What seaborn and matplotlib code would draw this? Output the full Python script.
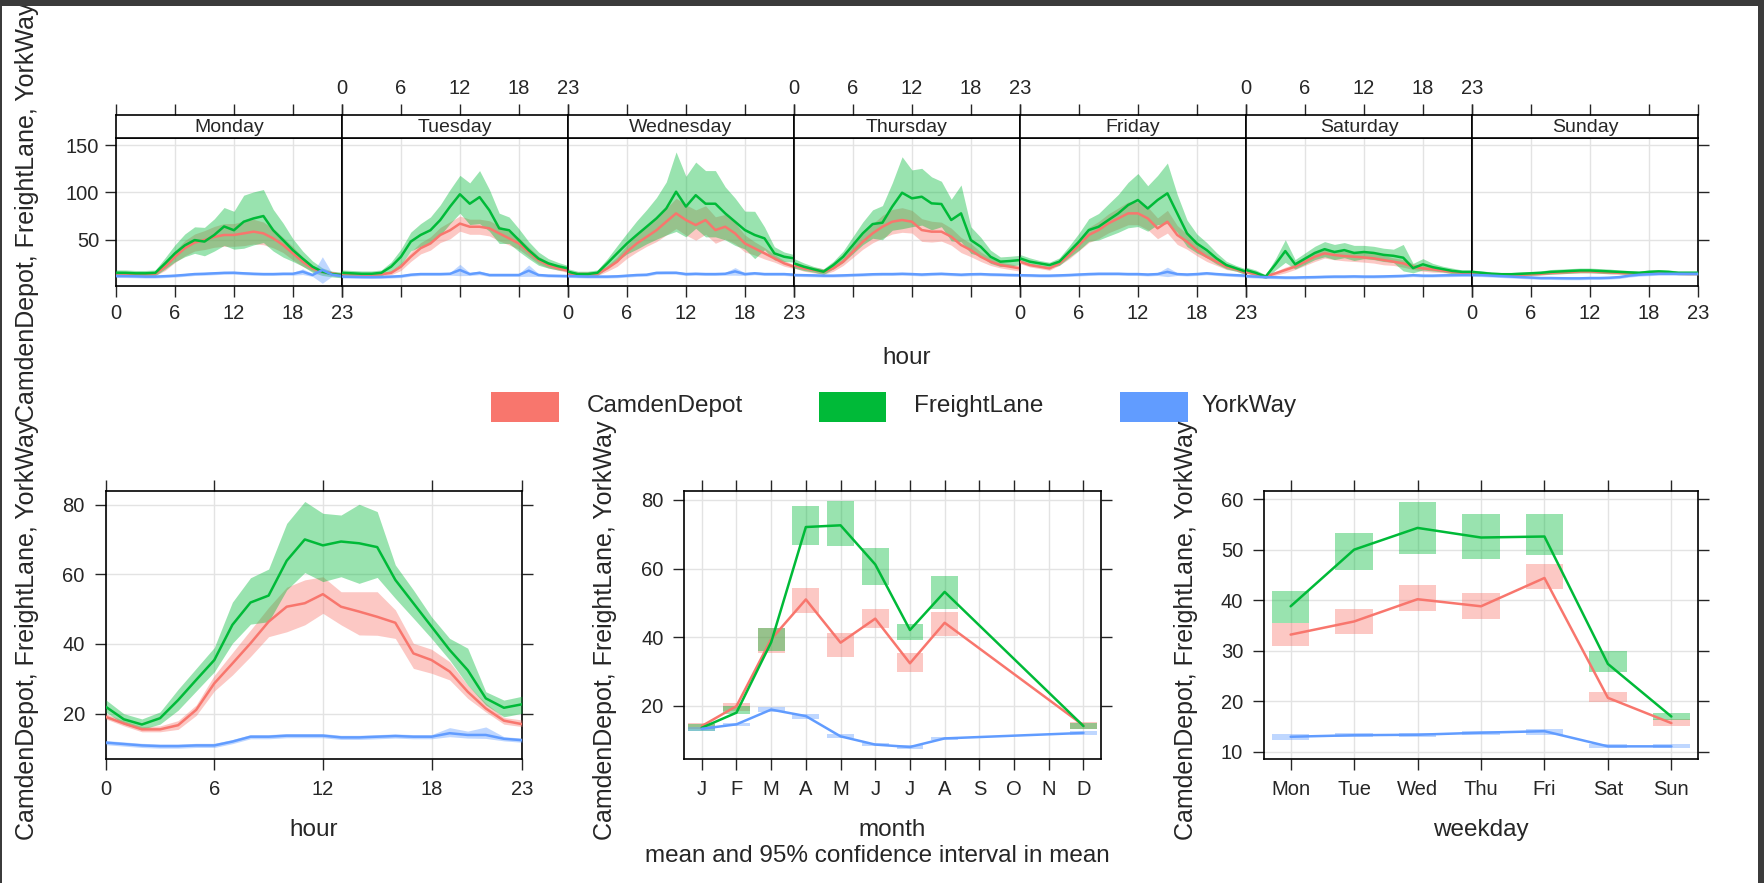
import numpy as np
import pandas as pd
import matplotlib
matplotlib.use("Agg")
import matplotlib.pyplot as plt
import seaborn as sns
from matplotlib.patches import Rectangle

sns.set_style("white")
plt.rcParams['font.family'] = ['Liberation Sans', 'DejaVu Sans']

# ---------------- data ----------------
sites = ["CamdenDepot", "FreightLane", "YorkWay"]
site_colors = ["#F8766D", "#00BA38", "#619CFF"]
days = ["Monday", "Tuesday", "Wednesday", "Thursday", "Friday", "Saturday", "Sunday"]
hours = list(range(24))

# day x hour means
camden_dayhour = [
    [14.4, 14.0, 13.5, 13.5, 14.0, 21.5, 32.0, 41.0, 47.0, 49.6, 53.0, 55.0, 55.0, 56.7, 58.5, 56.7, 51.4, 44.4, 35.6, 26.8, 19.7, 16.2, 14.4, 12.7],
    [14.0, 13.5, 13.0, 13.0, 13.5, 15.0, 21.5, 32.0, 41.0, 46.0, 55.0, 60.0, 67.0, 63.7, 63.7, 62.0, 56.7, 51.4, 46.0, 37.3, 28.5, 23.2, 19.7, 17.3],
    [14.4, 13.7, 13.7, 14.0, 19.7, 26.8, 37.3, 46.0, 53.0, 60.0, 69.0, 77.8, 70.8, 65.5, 70.8, 60.2, 63.7, 56.7, 46.0, 40.8, 35.6, 30.3, 25.0, 21.5],
    [23.2, 19.7, 18.0, 16.2, 19.7, 26.8, 37.3, 47.9, 56.7, 63.7, 69.0, 70.8, 69.0, 60.2, 58.5, 58.5, 53.2, 44.4, 39.0, 32.0, 26.8, 23.2, 21.5, 19.7],
    [26.8, 23.2, 21.5, 19.7, 25.0, 33.8, 44.4, 55.0, 60.2, 67.3, 72.5, 77.8, 77.8, 72.5, 62.0, 69.0, 55.0, 47.9, 39.0, 32.0, 26.8, 21.5, 18.7, 15.1],
    [16.0, 13.7, 11.0, 14.5, 18.0, 21.5, 26.8, 32.0, 35.6, 33.8, 32.7, 32.0, 31.3, 30.3, 28.5, 26.8, 25.0, 21.5, 19.7, 18.7, 17.3, 16.2, 15.0, 14.4],
    [15.0, 14.0, 13.5, 13.0, 13.0, 13.0, 13.5, 14.0, 15.0, 15.5, 16.0, 16.5, 16.5, 16.0, 15.5, 15.0, 14.5, 14.5, 15.0, 15.5, 15.0, 14.5, 14.0, 14.0],
]
freight_dayhour = [
    [15.1, 15.0, 14.5, 14.5, 15.0, 25.0, 35.6, 44.0, 49.6, 48.0, 55.0, 64.0, 60.0, 69.0, 72.5, 75.0, 60.0, 49.6, 39.0, 30.0, 21.5, 16.2, 13.7, 12.7],
    [15.0, 14.5, 14.0, 14.0, 15.0, 21.5, 32.0, 48.0, 55.0, 60.0, 70.8, 85.0, 98.0, 88.0, 95.0, 81.0, 62.0, 60.0, 49.6, 39.0, 30.0, 25.0, 22.0, 19.7],
    [16.2, 13.7, 13.7, 15.1, 25.0, 35.6, 46.0, 55.0, 63.7, 72.5, 83.0, 100.7, 85.0, 97.0, 88.0, 88.0, 77.8, 69.0, 60.2, 55.0, 51.4, 35.6, 32.0, 30.3],
    [25.0, 21.5, 18.7, 16.2, 23.2, 32.0, 44.4, 56.7, 66.5, 68.0, 85.0, 99.6, 93.7, 95.4, 88.4, 87.7, 70.8, 77.8, 49.6, 42.6, 32.0, 26.8, 27.5, 28.5],
    [30.3, 26.8, 25.0, 23.2, 26.8, 37.3, 47.9, 60.2, 63.7, 70.8, 77.8, 86.6, 91.9, 83.0, 91.9, 99.0, 77.8, 56.7, 46.0, 39.0, 30.3, 23.2, 19.7, 16.2],
    [18.0, 15.0, 11.0, 24.0, 38.0, 24.0, 30.0, 36.0, 40.0, 37.0, 39.0, 36.0, 37.0, 36.0, 34.0, 33.0, 31.0, 20.0, 24.0, 21.0, 19.0, 17.0, 16.0, 16.0],
    [16.0, 15.0, 14.0, 13.5, 13.5, 14.0, 14.5, 15.0, 16.0, 16.5, 17.0, 17.5, 17.5, 17.0, 16.5, 16.0, 15.5, 15.0, 16.0, 16.5, 16.0, 15.0, 15.0, 15.0],
]
york_dayhour = [
    [11.6, 11.5, 11.3, 11.0, 11.0, 11.5, 12.0, 12.8, 13.7, 14.0, 14.5, 15.0, 15.1, 14.5, 14.0, 13.7, 13.7, 14.0, 14.0, 16.2, 12.7, 18.0, 13.0, 11.6],
    [11.0, 10.8, 10.6, 10.5, 10.6, 11.0, 11.5, 13.0, 13.7, 13.7, 13.7, 14.0, 18.0, 13.7, 15.0, 12.7, 12.7, 12.7, 12.7, 17.3, 12.7, 12.0, 11.8, 11.6],
    [11.6, 11.3, 11.0, 11.0, 11.0, 11.3, 12.0, 12.7, 13.0, 15.0, 15.1, 15.1, 13.7, 14.0, 13.7, 13.7, 14.0, 16.5, 13.7, 14.5, 13.7, 13.7, 13.7, 13.0],
    [12.7, 12.5, 12.3, 12.0, 12.0, 12.3, 12.7, 13.0, 13.5, 13.7, 13.7, 14.0, 13.7, 13.2, 13.7, 14.0, 13.5, 13.0, 13.5, 13.7, 13.2, 13.0, 12.7, 12.5],
    [12.5, 12.3, 12.0, 12.0, 12.3, 12.7, 13.2, 13.7, 14.0, 14.0, 14.0, 13.7, 13.7, 13.2, 13.7, 16.0, 13.7, 13.2, 13.7, 14.5, 13.7, 13.0, 12.5, 12.0],
    [11.5, 11.0, 10.5, 10.3, 10.0, 10.0, 10.3, 10.5, 10.8, 11.0, 11.0, 11.2, 11.0, 11.0, 11.2, 11.5, 11.8, 12.5, 12.0, 12.0, 12.3, 12.5, 12.7, 12.7],
    [12.7, 12.5, 12.0, 11.5, 11.0, 10.5, 10.0, 9.5, 9.5, 9.3, 9.2, 9.2, 9.5, 9.5, 9.8, 10.5, 12.0, 13.0, 13.5, 14.0, 14.0, 14.0, 14.0, 14.0],
]
# day x hour 95% CI half-widths
camden_dayhour_ci = [
    [2, 2, 2, 2, 2, 4, 6, 8, 9, 10, 11, 12, 12, 13, 13, 12, 10, 8, 7, 5, 3, 2, 2, 2],
    [2, 2, 2, 2, 2, 2, 4, 5, 6, 7, 8, 9, 8, 8, 8, 8, 8, 7, 6, 5, 4, 3, 2, 2],
    [2, 2, 2, 2, 3, 5, 7, 9, 10, 12, 14, 16, 16, 16, 15, 14, 13, 11, 9, 7, 6, 4, 3, 2],
    [3, 3, 3, 3, 3, 4, 6, 8, 10, 12, 13, 13, 12, 12, 11, 10, 9, 8, 7, 5, 4, 3, 3, 3],
    [2, 2, 2, 2, 2, 4, 6, 8, 9, 10, 11, 12, 12, 12, 11, 12, 10, 8, 6, 5, 4, 3, 2, 2],
    [2, 2, 2, 2, 3, 3, 4, 5, 5, 5, 5, 5, 5, 5, 5, 4, 4, 3, 3, 3, 2, 2, 2, 2],
    [1.5, 1.5, 1.5, 1.5, 1.5, 1.5, 1.5, 1.5, 1.5, 1.5, 1.5, 1.5, 1.5, 1.5, 1.5, 1.5, 1.5, 1.5, 1.5, 1.5, 1.5, 1.5, 1.5, 1.5],
]
freight_dayhour_ci = [
    [3, 3, 3, 3, 3, 6, 9, 12, 14, 15, 17, 20, 20, 28, 28, 28, 22, 18, 12, 8, 6, 4, 3, 3],
    [3, 3, 3, 3, 3, 5, 8, 10, 12, 14, 16, 18, 20, 22, 28, 22, 16, 14, 12, 9, 7, 5, 4, 3],
    [3, 3, 3, 3, 5, 8, 11, 15, 18, 22, 28, 42, 32, 35, 35, 35, 28, 25, 20, 25, 12, 7, 5, 4],
    [5, 4, 3, 3, 4, 6, 9, 12, 15, 18, 25, 38, 30, 30, 28, 24, 22, 30, 14, 10, 7, 5, 5, 5],
    [4, 4, 3, 3, 4, 6, 9, 12, 14, 17, 20, 24, 28, 24, 26, 32, 20, 14, 10, 8, 6, 4, 3, 3],
    [3, 3, 2, 6, 12, 5, 6, 7, 8, 8, 8, 8, 7, 7, 7, 7, 14, 5, 6, 4, 3, 3, 2, 2],
    [2, 2, 2, 2, 2, 2, 2, 2, 2.5, 2.5, 2.5, 2.5, 2.5, 2.5, 2.5, 2, 2, 2, 2, 2, 2, 2, 2, 2],
]
york_dayhour_ci = [
    [1.5, 1.5, 1.5, 1.5, 1.5, 1.5, 1.5, 1.5, 1.5, 1.5, 1.5, 1.5, 1.5, 1.5, 1.5, 1.5, 1.5, 1.5, 1.5, 3, 1.5, 14, 1.5, 1.5],
    [1.5, 1.5, 1.5, 1.5, 1.5, 1.5, 1.5, 1.5, 1.5, 1.5, 1.5, 1.5, 6, 1.5, 2, 1.5, 1.5, 1.5, 1.5, 6, 1.5, 1.5, 1.5, 1.5],
    [1.5, 1.5, 1.5, 1.5, 1.5, 1.5, 1.5, 1.5, 1.5, 1.5, 1.5, 1.5, 1.5, 1.5, 1.5, 1.5, 1.5, 4, 1.5, 1.5, 1.5, 1.5, 1.5, 1.5],
    [1.5, 1.5, 1.5, 1.5, 1.5, 1.5, 1.5, 1.5, 1.5, 1.5, 1.5, 1.5, 1.5, 1.5, 1.5, 1.5, 1.5, 1.5, 1.5, 1.5, 1.5, 1.5, 1.5, 1.5],
    [1.5, 1.5, 1.5, 1.5, 1.5, 1.5, 1.5, 1.5, 1.5, 1.5, 1.5, 1.5, 1.5, 1.5, 1.5, 5, 1.5, 1.5, 1.5, 1.5, 1.5, 1.5, 1.5, 1.5],
    [1.5, 1.5, 1.5, 1.5, 1.5, 1.5, 1.5, 1.5, 1.5, 1.5, 1.5, 1.5, 1.5, 1.5, 1.5, 1.5, 1.5, 1.5, 1.5, 1.5, 1.5, 1.5, 1.5, 1.5],
    [1.5, 1.5, 1.5, 1.5, 1.5, 1.5, 1.5, 1.5, 1.5, 1.5, 1.5, 1.5, 1.5, 1.5, 1.5, 1.5, 1.5, 1.5, 1.5, 1.5, 1.5, 1.5, 1.5, 1.5],
]

# hour panel
camden_hour = [19.1, 17.2, 15.5, 15.5, 16.7, 21.1, 28.7, 34.4, 40.2, 46.4, 50.7, 51.7, 54.3, 50.7, 49.3, 47.8, 46.1, 37.3, 35.4, 32.1, 26.3, 21.5, 18.0, 17.0]
camden_hour_lo = [18.5, 16.5, 14.8, 14.8, 15.5, 19.5, 26.5, 31.1, 36.4, 42.1, 43.5, 45.5, 48.8, 45.5, 42.6, 42.5, 41.6, 33.0, 31.6, 29.7, 24.4, 20.5, 17.0, 16.3]
camden_hour_hi = [20.0, 18.0, 16.3, 16.5, 18.0, 22.5, 31.0, 37.5, 44.0, 50.5, 56.3, 58.4, 59.3, 55.0, 55.0, 55.0, 49.8, 40.2, 38.5, 34.9, 28.2, 23.0, 18.9, 18.2]
freight_hour = [22.0, 18.4, 16.9, 18.7, 23.9, 29.7, 35.4, 45.5, 51.9, 53.9, 63.9, 70.0, 68.3, 69.4, 68.9, 67.8, 58.4, 51.7, 45.0, 38.3, 32.5, 24.4, 21.7, 22.7]
freight_hour_lo = [20.5, 17.0, 15.5, 17.0, 21.0, 26.5, 32.0, 40.2, 45.7, 46.4, 55.5, 60.5, 57.9, 59.3, 57.4, 59.1, 53.1, 47.4, 41.6, 35.4, 28.2, 22.5, 19.1, 20.1]
freight_hour_hi = [24.0, 20.0, 18.5, 20.5, 27.0, 33.0, 39.0, 52.0, 59.0, 61.5, 74.6, 80.9, 77.5, 77.0, 80.1, 78.0, 62.7, 55.5, 47.8, 41.6, 38.8, 26.3, 23.9, 25.0]
york_hour = [11.7, 11.3, 10.9, 10.7, 10.7, 10.9, 10.9, 12.0, 13.4, 13.4, 13.7, 13.7, 13.7, 13.2, 13.2, 13.4, 13.6, 13.4, 13.4, 14.4, 13.9, 13.9, 12.8, 12.4]
york_hour_lo = [11.1, 10.7, 10.3, 10.1, 10.1, 10.3, 10.3, 11.4, 12.8, 12.8, 13.1, 13.1, 13.1, 12.6, 12.6, 12.8, 13.0, 12.8, 12.8, 13.4, 13.0, 12.9, 12.2, 11.8]
york_hour_hi = [12.3, 11.9, 11.5, 11.3, 11.3, 11.5, 11.5, 12.6, 14.0, 14.0, 14.3, 14.3, 14.3, 13.8, 13.8, 14.0, 14.2, 14.0, 14.0, 16.0, 15.0, 16.2, 13.4, 13.0]

# month panel (months with data)
month_labels = ["J", "F", "M", "A", "M", "J", "J", "A", "S", "O", "N", "D"]
month_num = [1, 2, 3, 4, 5, 6, 7, 8, 12]
camden_month = [14.1, 19.9, 39.4, 51.0, 38.4, 45.4, 32.4, 44.2, 14.3]
camden_month_lo = [13.1, 18.4, 35.5, 47.1, 34.3, 42.8, 29.9, 40.3, 13.3]
camden_month_hi = [15.0, 20.9, 42.8, 54.2, 41.3, 48.3, 35.5, 47.3, 15.2]
freight_month = [13.6, 18.0, 38.5, 72.1, 72.6, 61.2, 42.1, 53.2, 14.1]
freight_month_lo = [12.6, 17.5, 36.0, 66.8, 66.6, 55.2, 39.2, 48.1, 13.1]
freight_month_hi = [14.6, 19.9, 42.8, 78.3, 79.7, 66.1, 43.7, 57.8, 15.0]
york_month = [13.3, 14.6, 18.9, 17.0, 11.1, 8.7, 8.0, 10.5, 12.1]
york_month_lo = [12.8, 14.1, 18.2, 16.3, 10.5, 8.2, 7.5, 10.0, 11.6]
york_month_hi = [13.8, 15.1, 19.6, 17.7, 11.7, 9.2, 8.5, 11.0, 12.6]

# weekday panel
weekday_labels = ["Mon", "Tue", "Wed", "Thu", "Fri", "Sat", "Sun"]
camden_wd = [33.2, 35.8, 40.2, 38.8, 44.4, 20.7, 15.7]
camden_wd_lo = [30.9, 33.4, 37.8, 36.2, 42.2, 19.8, 15.1]
camden_wd_hi = [35.4, 38.3, 43.1, 41.4, 47.2, 21.8, 16.5]
freight_wd = [38.8, 50.0, 54.3, 52.4, 52.6, 27.4, 17.0]
freight_wd_lo = [35.5, 46.0, 49.1, 48.2, 49.0, 25.9, 16.3]
freight_wd_hi = [41.8, 53.3, 59.5, 57.0, 57.0, 30.0, 17.6]
york_wd = [13.0, 13.3, 13.4, 13.8, 14.1, 11.1, 11.1]
york_wd_lo = [12.3, 12.9, 13.0, 13.4, 13.3, 10.7, 10.7]
york_wd_hi = [13.6, 13.7, 13.8, 14.2, 14.6, 11.5, 11.5]

ylabel_text = "CamdenDepot, FreightLane, YorkWay"

# ---------------- figure ----------------
W, H = 1764, 883
fig = plt.figure(figsize=(W / 100, H / 100), dpi=100)
fig.patch.set_facecolor("white")
palette = dict(zip(sites, site_colors))
GRID = "#e3e3e3"
TICK_FS = 14.5
STRIP_FS = 14
LAB_FS = 17.5
YLAB_FS = 18


def ax_px(x0, y0, x1, y1):
    return fig.add_axes([x0 / W, 1 - y1 / H, (x1 - x0) / W, (y1 - y0) / H])


def style_frame(ax):
    for s in ax.spines.values():
        s.set_visible(True)
        s.set_color("black")
        s.set_linewidth(1.2)
    ax.set_facecolor("white")


def draw_lines(ax, x, means):
    frames = []
    for site, m in zip(sites, means):
        frames.append(pd.DataFrame({"x": x, "value": m, "site": site}))
    df = pd.concat(frames, ignore_index=True)
    sns.lineplot(data=df, x="x", y="value", hue="site", palette=palette,
                 legend=False, ax=ax, lw=1.8, zorder=5)
    ax.set_xlabel("")
    ax.set_ylabel("")


# ---- top panel: day x hour ----
tl, tr = 116, 1698
dw = (tr - tl) / 7
for i, day in enumerate(days):
    x0 = tl + i * dw
    ax = ax_px(x0, 138.3, x0 + dw, 286)
    style_frame(ax)
    means = [camden_dayhour[i], freight_dayhour[i], york_dayhour[i]]
    cis = [camden_dayhour_ci[i], freight_dayhour_ci[i], york_dayhour_ci[i]]
    for m, c, col in zip(means, cis, site_colors):
        m = np.array(m); c = np.array(c)
        ax.fill_between(hours, m - c, m + c, color=col, alpha=0.4, lw=0, zorder=3)
    draw_lines(ax, hours, means)
    ax.set_xlim(0, 23)
    ax.set_ylim(1.1, 157.1)
    ax.set_xticks([0, 6, 12, 18, 23])
    ax.set_yticks([50, 100, 150])
    ax.grid(True, color=GRID, lw=1)
    ax.set_axisbelow(True)
    ax.tick_params(axis="x", direction="out", length=8, width=1, pad=5,
                   bottom=True, top=False, labelbottom=(i % 2 == 0),
                   labelsize=TICK_FS)
    ax.tick_params(axis="y", direction="out", length=8, width=1, pad=4,
                   left=(i == 0), right=(i == 6), labelleft=(i == 0),
                   labelright=False, labelsize=TICK_FS)
    # strip
    st = ax_px(x0, 115, x0 + dw, 138.3)
    style_frame(st)
    st.set_xlim(0, 23)
    st.set_ylim(0, 1)
    st.set_xticks([0, 6, 12, 18, 23])
    st.set_yticks([])
    st.tick_params(axis="x", direction="out", length=8, width=1, pad=4,
                   bottom=False, top=True, labelbottom=False,
                   labeltop=(i % 2 == 1), labelsize=TICK_FS)
    st.text(0.5, 0.45, day, transform=st.transAxes, ha="center", va="center",
            fontsize=STRIP_FS)

fig.text(907 / W, 1 - 358 / H, "hour", ha="center", va="center", fontsize=LAB_FS)
fig.text(27 / W, 1 - 212 / H, ylabel_text, rotation=90, ha="center",
         va="center", fontsize=YLAB_FS)

# ---- legend ----
leg_items = [(491, 586.6), (818.5, 913.8), (1120, 1201.4)]
for (px, tx), site, col in zip(leg_items, sites, site_colors):
    fig.add_artist(Rectangle((px / W, 1 - 421.7 / H), 68 / W, 30 / H,
                             transform=fig.transFigure, color=col, lw=0))
    fig.text(tx / W, 1 - 406 / H, site, ha="left", va="center", fontsize=LAB_FS)


def bottom_axes(x0, x1):
    ax = ax_px(x0, 491, x1, 759)
    style_frame(ax)
    ax.grid(True, color=GRID, lw=1)
    ax.set_axisbelow(True)
    ax.tick_params(direction="out", length=8, width=1, pad=7,
                   top=True, right=True, bottom=True, left=True,
                   labeltop=False, labelright=False, labelsize=TICK_FS)
    return ax


def bottom_ylabel(xc):
    fig.text(xc / W, 1 - 630 / H, ylabel_text, rotation=90, ha="center",
             va="center", fontsize=YLAB_FS)


# ---- bottom-left: hour ----
axh = bottom_axes(105.7, 522)
for lo, hi, col in zip([camden_hour_lo, freight_hour_lo, york_hour_lo],
                       [camden_hour_hi, freight_hour_hi, york_hour_hi], site_colors):
    axh.fill_between(hours, lo, hi, color=col, alpha=0.4, lw=0, zorder=3)
draw_lines(axh, hours, [camden_hour, freight_hour, york_hour])
axh.set_xlim(0, 23)
axh.set_ylim(7.0, 83.9)
axh.set_xticks([0, 6, 12, 18, 23])
axh.set_yticks([20, 40, 60, 80])
fig.text(314 / W, 1 - 830 / H, "hour", ha="center", va="center", fontsize=LAB_FS)
bottom_ylabel(27)

# ---- bottom-middle: month ----
axm = bottom_axes(684.4, 1100.8)
for lo, hi, col in zip([camden_month_lo, freight_month_lo, york_month_lo],
                       [camden_month_hi, freight_month_hi, york_month_hi], site_colors):
    lo = np.array(lo); hi = np.array(hi)
    axm.bar(month_num, hi - lo, bottom=lo, width=0.77, color=col, alpha=0.4,
            lw=0, zorder=3)
draw_lines(axm, month_num, [camden_month, freight_month, york_month])
axm.set_xlim(0.5, 12.5)
axm.set_ylim(4.5, 82.6)
axm.set_xticks(range(1, 13))
axm.set_xticklabels(month_labels)
axm.set_yticks([20, 40, 60, 80])
fig.text(892.6 / W, 1 - 830 / H, "month", ha="center", va="center", fontsize=LAB_FS)
fig.text(877 / W, 1 - 856 / H, "mean and 95% confidence interval in mean",
         ha="center", va="center", fontsize=LAB_FS)
bottom_ylabel(605)

# ---- bottom-right: weekday ----
axw = bottom_axes(1264, 1698)
wd_x = list(range(1, 8))
for lo, hi, col in zip([camden_wd_lo, freight_wd_lo, york_wd_lo],
                       [camden_wd_hi, freight_wd_hi, york_wd_hi], site_colors):
    lo = np.array(lo); hi = np.array(hi)
    axw.bar(wd_x, hi - lo, bottom=lo, width=0.59, color=col, alpha=0.4,
            lw=0, zorder=3)
draw_lines(axw, wd_x, [camden_wd, freight_wd, york_wd])
axw.set_xlim(0.58, 7.42)
axw.set_ylim(8.6, 61.6)
axw.set_xticks(wd_x)
axw.set_xticklabels(weekday_labels)
axw.set_yticks([10, 20, 30, 40, 50, 60])
fig.text(1481 / W, 1 - 830 / H, "weekday", ha="center", va="center", fontsize=LAB_FS)
bottom_ylabel(1186)

# ---- screenshot frame ----
DARK = "#3b3b3b"
fig.add_artist(Rectangle((0, 1 - 6 / H), 1, 6 / H, transform=fig.transFigure,
                         color=DARK, lw=0, zorder=10))
fig.add_artist(Rectangle((0, 0), 2 / W, 1, transform=fig.transFigure,
                         color=DARK, lw=0, zorder=10))
fig.add_artist(Rectangle((1 - 6 / W, 0), 6 / W, 1, transform=fig.transFigure,
                         color=DARK, lw=0, zorder=10))

fig.savefig("out.png", dpi=100)
